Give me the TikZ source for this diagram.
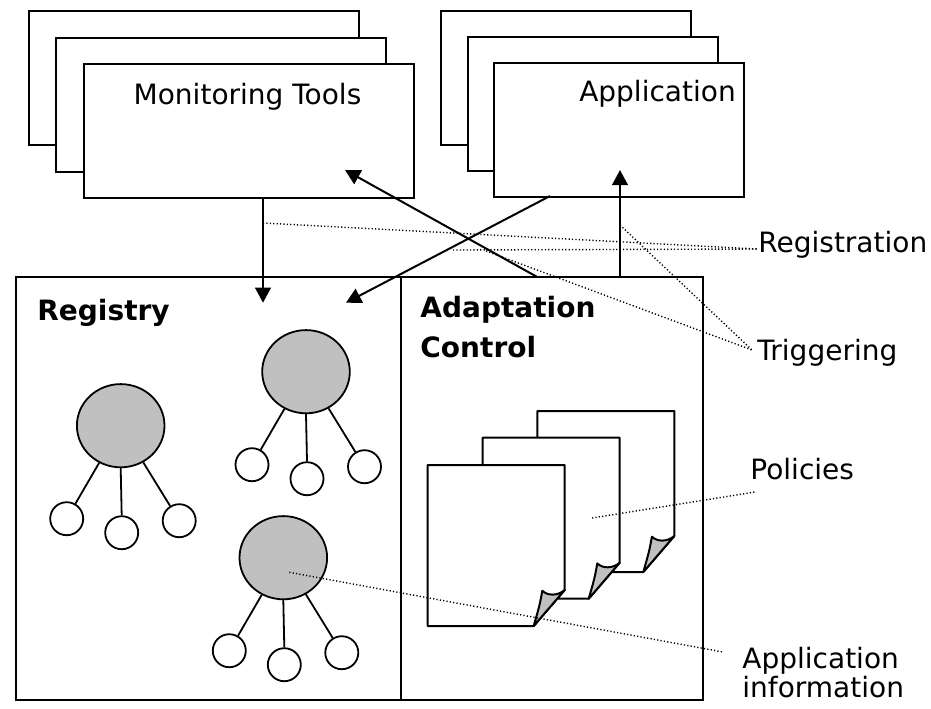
\documentclass[tikz,border=0pt]{standalone}
\usepackage{fontspec}
\setmainfont{DejaVu Sans}
\usetikzlibrary{arrows.meta,shapes.geometric}
\definecolor{shade}{HTML}{C0C0C0}

\tikzset{
  frame/.style={draw, line width=1pt, fill=white, rectangle, anchor=north west, inner sep=0pt},
  root/.style={draw, line width=0.9pt, fill=shade, ellipse, minimum width=43.8pt, minimum height=41.6pt, inner sep=0pt},
  leaf/.style={draw, line width=0.9pt, fill=white, circle, minimum size=16.5pt, inner sep=0pt},
  flow/.style={line width=1pt, -{Triangle[length=7.5pt,width=7.8pt]}},
  leader/.style={line width=0.7pt, dash pattern=on 0.6pt off 1.1pt},
  caption/.style={inner sep=0pt, anchor=base west, font=\fontsize{14pt}{16pt}\selectfont},
  boldcaption/.style={caption, font=\fontsize{14pt}{16pt}\selectfont\bfseries},
}

% one policy sheet with a curled corner, top left at (#1,#2)
\newcommand\policypage[2]{%
  \begin{scope}[shift={(#1,#2)}]
    \draw[line width=1pt, fill=white, line join=round] (0,0) -- (137,0) -- (137,125) -- (106,161) -- (0,161) -- cycle;
    \draw[line width=1pt, fill=shade, line join=round] (137,125) .. controls (130,131) and (120,131) .. (114.6,125.7)
      .. controls (112,140) .. (106,161) -- cycle;
  \end{scope}}

\begin{document}
\begin{tikzpicture}[x=0.5pt,y=-0.5pt]
\useasboundingbox (0,0) rectangle (931,708);

% stacked windows
\foreach \i in {0,1,2}{
  \node[frame, minimum width=165pt, minimum height=67pt] (mon\i) at (28+27.3*\i, 10+26.7*\i) {};
  \node[frame, minimum width=125pt, minimum height=67pt] (app\i) at (440+26.5*\i, 10+26*\i) {};
}
\node[caption, anchor=base] (montxt) at (247.5,104) {Monitoring Tools};
\node[caption, anchor=base] (apptxt) at (657.5,101) {Application};

% registry and adaptation control
\node[frame, minimum width=192.5pt, minimum height=211.5pt] (registry) at (15,276) {};
\node[frame, minimum width=151pt, minimum height=211.5pt] (adapt) at (400,276) {};
\node[boldcaption] (regtxt) at (37,320) {Registry};
\node[boldcaption] (adtxt) at (420,317) {Adaptation};
\node[boldcaption] (cotxt) at (420,357) {Control};

% information trees
\foreach \n/\x/\y in {t1/120.7/425.7, t2/306/371.7, t3/283.3/557.7}{
  \node[root] (\n) at (\x,\y) {};
  \node[leaf] (\n-a) at ([shift={(-54,93)}]\n) {};
  \node[leaf] (\n-b) at ([shift={(1,107)}]\n) {};
  \node[leaf] (\n-c) at ([shift={(58.5,95)}]\n) {};
  \draw[line width=0.9pt] (\n) -- (\n-a);
  \draw[line width=0.9pt] (\n.south) -- (\n-b.north);
  \draw[line width=0.9pt] (\n) -- (\n-c);
}

% policies
\policypage{537.3}{411}
\policypage{482.7}{437.7}
\policypage{427.7}{465}

% arrows
\coordinate (monout) at (263,197);
\coordinate (regin) at (263,302.7);
\coordinate (appout) at (550,196);
\coordinate (regin2) at (346,302.7);
\coordinate (adout) at (536.7,276.7);
\coordinate (monin) at (345,170);
\coordinate (adout2) at (620,276.7);
\coordinate (appin) at (620,170);
\draw[flow] (monout) -- (regin);
\draw[flow] (appout) -- (regin2);
\draw[flow] (adout) -- (monin);
\draw[flow] (adout2) -- (appin);

% labels
\node[caption] (reglbl) at (758,252) {Registration};
\node[caption] (triglbl) at (757,360) {Triggering};
\node[caption] (pollbl) at (750,479) {Policies};
\node[caption] (infolbl) at (742,668) {Application};
\node[caption] (infolbl2) at (742,697) {information};

% leader lines
\coordinate (regpt1) at (263,223);
\coordinate (regpt2) at (453,250);
\coordinate (trigpt1) at (486,251);
\coordinate (trigpt2) at (620,225);
\coordinate (polpt) at (592,518);
\draw[leader] (regpt1) -- ([shift={(-1,-3)}]reglbl.base west);
\draw[leader] (regpt2) -- ([shift={(-1,-3)}]reglbl.base west);
\draw[leader] (trigpt1) -- ([shift={(-5,-10)}]triglbl.base west);
\draw[leader] (trigpt2) -- ([shift={(-5,-10)}]triglbl.base west);
\draw[leader] (polpt) -- ([shift={(5,13)}]pollbl.base west);
\draw[leader] ([shift={(6,14.6)}]t3.center) -- ([shift={(-19,-16)}]infolbl.base west);
\end{tikzpicture}
\end{document}
